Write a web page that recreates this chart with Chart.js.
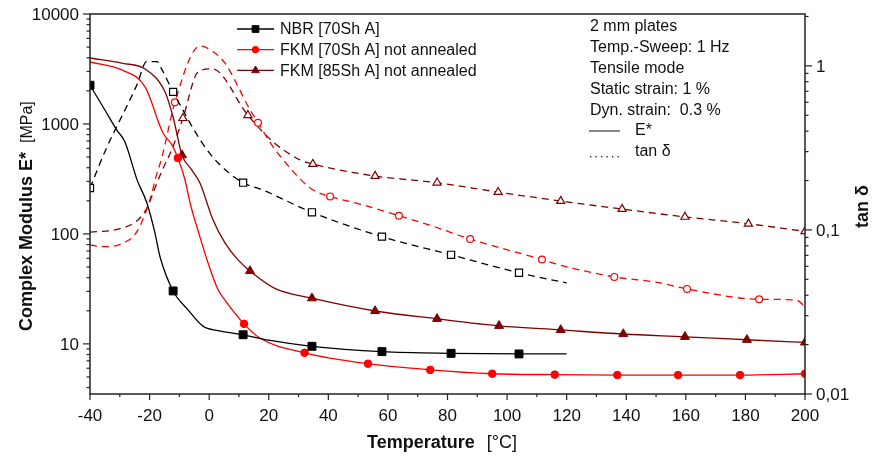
<!DOCTYPE html>
<html>
<head>
<meta charset="utf-8">
<script src="https://cdn.jsdelivr.net/npm/chart.js@4.4.0/dist/chart.umd.min.js"></script>
<style>
  html, body { margin: 0; padding: 0; background: #fff; }
  #wrap { width: 872px; height: 461px; }
</style>
</head>
<body>
<div id="wrap"><canvas id="c" width="872" height="461"></canvas></div>
<script>
// ---- data (temperature in °C) ----
// E* [MPa], left axis
const nbrT  = [-40, -35, -31, -28.3, -24.2, -20.9, -18.2, -16.5, -12.1, -7.1, -2.1, 3, 11.4, 20, 34.5, 58, 81.2, 104, 120];
const nbrE  = [2250, 1340, 880, 690, 310, 191, 102, 62, 30.3, 20.4, 14.5, 13.2, 12.1, 10.8, 9.5, 8.5, 8.2, 8.1, 8.1];
const nbrEMarks = [0, 8, 12, 14, 15, 16, 17];

const fkm70T = [-40, -29.3, -21.5, -15.5, -12.5, -10.5, -8.1, -6.4, -3.1, -0.7, 3, 5.3, 11.7, 17, 32, 53.3, 74.2, 95, 116, 137, 157.4, 178.2, 200];
const fkm70E = [3660, 3100, 2170, 828, 646, 490, 309, 191, 94, 58, 31, 25, 15.2, 11.3, 8.3, 6.6, 5.8, 5.35, 5.25, 5.2, 5.2, 5.2, 5.35];
const fkm70EMarks = [5, 12, 14, 15, 16, 17, 18, 19, 20, 21, 22];

const fkm85T = [-40, -29, -21.5, -14.8, -12.1, -9.1, -5.8, -3.1, 1.3, 5.3, 9.7, 13.7, 22, 34.5, 55.7, 76.5, 97.3, 118, 139, 159.7, 180.5, 200];
const fkm85E = [3980, 3560, 3160, 1950, 1150, 520, 381, 290, 134, 83, 58, 46, 32, 26, 19.9, 16.9, 14.6, 13.4, 12.3, 11.6, 10.9, 10.3];
const fkm85EMarks = [5, 11, 13, 14, 15, 16, 17, 18, 19, 20, 21];

// tan delta, right axis
const nbrTanT = [-40, -35, -24.2, -21, -17.5, -15.8, -12.1, -2.4, 3, 11.4, 18, 34.5, 58, 81.2, 104, 120];
const nbrTan  = [0.18, 0.30, 0.77, 1.06, 1.06, 0.945, 0.694, 0.34, 0.256, 0.194, 0.175, 0.128, 0.091, 0.0705, 0.0548, 0.0475];
const nbrTanMarks = [0, 6, 9, 11, 12, 13, 14];

const fkm70TanT = [-40, -38.3, -35, -28.3, -23.9, -19.2, -18.2, -15.8, -11.5, -3.1, 1.3, 5.3, 13.7, 16.4, 21.5, 24.9, 29.9, 34.9, 40.6, 51.6, 63.7, 74, 87.6, 111.7, 117.8, 136, 150, 160.4, 184.6, 197, 200];
const fkm70Tan  = [0.081, 0.080, 0.079, 0.084, 0.1, 0.168, 0.2, 0.28, 0.6, 1.32, 1.22, 1.04, 0.54, 0.45, 0.32, 0.267, 0.21, 0.175, 0.16, 0.142, 0.122, 0.107, 0.088, 0.066, 0.061, 0.0517, 0.048, 0.0437, 0.0378, 0.0374, 0.034];
const fkm70TanMarks = [8, 13, 18, 20, 22, 23, 25, 27, 28];

const fkm85TanT = [-40, -30.6, -23.9, -20.9, -18.2, -15.8, -12.5, -8.8, -3.7, 1, 13, 21.5, 30.5, 34.8, 55.7, 76.5, 97, 118, 138.6, 159.7, 181, 200];
const fkm85Tan  = [0.097, 0.101, 0.115, 0.136, 0.18, 0.23, 0.31, 0.48, 0.92, 0.96, 0.5, 0.344, 0.267, 0.252, 0.213, 0.194, 0.17, 0.15, 0.134, 0.12, 0.109, 0.098];
const fkm85TanMarks = [7, 10, 13, 14, 15, 16, 17, 18, 19, 20, 21];

const seriesNames = ['NBR [70Sh A]', 'FKM [70Sh A] not annealed', 'FKM [85Sh A] not annealed'];
const infoLines = ['2 mm plates', 'Temp.-Sweep: 1 Hz', 'Tensile mode', 'Static strain: 1 %', 'Dyn. strain:  0.3 %'];

const xTicks = [-40, -20, 0, 20, 40, 60, 80, 100, 120, 140, 160, 180, 200];
const leftTicks = [10, 100, 1000, 10000];
const rightTicks = [0.01, 0.1, 1];
const rightTickLabels = ['0,01', '0,1', '1'];

const BLACK = '#000000', RED = '#ff0000', DARK = '#800000';
const FONT = '"Liberation Sans", Arial, sans-serif';
const RADIUS = { rect: 5.6, circle: 3.8, triangle: 5.2 };

function pts (T, V) { return T.map((t, i) => ({ x: t, y: V[i] })); }

function series (label, T, V, marks, color, axis, dashed, style, open) {
  return {
    label,
    data: pts(T, V),
    yAxisID: axis,
    borderColor: color,
    borderWidth: 1.3,
    borderDash: dashed ? [7, 5] : [],
    cubicInterpolationMode: 'monotone',
    pointStyle: style,
    pointRadius: (c) => marks.includes(c.dataIndex) ? RADIUS[style] * (open ? 0.9 : 1) : 0,
    pointHoverRadius: 0,
    pointBackgroundColor: open ? '#ffffff' : color,
    pointBorderColor: color,
    pointBorderWidth: open ? 1.2 : 1
  };
}

function line (ctx, x1, y1, x2, y2) {
  ctx.beginPath(); ctx.moveTo(x1, y1); ctx.lineTo(x2, y2); ctx.stroke();
}

// frame, ticks, titles, legend and notes
const decorPlugin = {
  id: 'decor',
  afterDatasetsDraw (chart) {
    const { ctx, chartArea: a, scales } = chart;
    const xs = scales.x, yl = scales.y, yr = scales.y2;
    ctx.save();
    ctx.strokeStyle = '#222';
    ctx.fillStyle = '#111';
    ctx.lineWidth = 1.5;
    ctx.strokeRect(a.left, a.top, a.right - a.left, a.bottom - a.top);

    ctx.lineWidth = 1.2;
    ctx.font = '17px ' + FONT;
    ctx.textAlign = 'center';
    ctx.textBaseline = 'middle';
    // x axis
    for (let t = xs.min; t <= xs.max; t += 10) {
      const px = xs.getPixelForValue(t);
      const major = xTicks.includes(t);
      line(ctx, px, a.bottom, px, a.bottom + (major ? 6 : 3));
    }
    xTicks.forEach(t => ctx.fillText(String(t), xs.getPixelForValue(t), a.bottom + 22));

    // left log axis
    for (let d = 1; d <= 1000; d *= 10) {
      for (let m = 1; m <= 9; m++) {
        const v = d * m;
        if (v < yl.min || v > yl.max) continue;
        const py = yl.getPixelForValue(v);
        line(ctx, a.left - (m === 1 ? 7 : 3.5), py, a.left, py);
      }
    }
    line(ctx, a.left - 7, yl.getPixelForValue(10000), a.left, yl.getPixelForValue(10000));
    ctx.textAlign = 'right';
    leftTicks.forEach(v => ctx.fillText(String(v), a.left - 11, yl.getPixelForValue(v) + 1));

    // right log axis
    for (let d = 0.01; d <= 1.5; d *= 10) {
      for (let m = 1; m <= 9; m++) {
        const v = d * m;
        if (v < yr.min - 1e-9 || v > yr.max) continue;
        const py = yr.getPixelForValue(v);
        line(ctx, a.right, py, a.right + (m === 1 ? 7 : 3.5), py);
      }
    }
    ctx.textAlign = 'left';
    rightTicks.forEach((v, i) => ctx.fillText(rightTickLabels[i], a.right + 11, yr.getPixelForValue(v) + 1));

    // axis titles
    ctx.textBaseline = 'alphabetic';
    ctx.font = 'bold 18px ' + FONT;
    const tb = 'Temperature';
    ctx.fillText(tb, 367, 448);
    const tbw = ctx.measureText(tb).width;
    ctx.font = '18px ' + FONT;
    ctx.fillText('[°C]', 367 + tbw + 12, 448);

    ctx.save();
    ctx.translate(32, 331);
    ctx.rotate(-Math.PI / 2);
    ctx.font = 'bold 18px ' + FONT;
    const lb = 'Complex Modulus E*';
    ctx.fillText(lb, 0, 0);
    const lbw = ctx.measureText(lb).width;
    ctx.font = '16px ' + FONT;
    ctx.fillText('[MPa]', lbw + 9, 0);
    ctx.restore();

    ctx.save();
    ctx.translate(868, 228);
    ctx.rotate(-Math.PI / 2);
    ctx.font = 'bold 18px ' + FONT;
    ctx.fillText('tan δ', 0, 0);
    ctx.restore();

    // legend
    const legendSets = chart.data.datasets.slice(0, 3);
    ctx.font = '16px ' + FONT;
    ctx.textBaseline = 'middle';
    legendSets.forEach((ds, i) => {
      const y = 29 + i * 20.7;
      ctx.strokeStyle = ds.borderColor;
      ctx.lineWidth = 1.3;
      line(ctx, 237, y, 274, y);
      ctx.fillStyle = ds.pointBackgroundColor;
      ctx.strokeStyle = ds.borderColor;
      ctx.lineWidth = 1;
      Chart.helpers.drawPoint(ctx, { pointStyle: ds.pointStyle, radius: RADIUS[ds.pointStyle] * 0.85, rotation: 0, borderWidth: 1 }, 255.5, y);
      ctx.fillStyle = '#111';
      ctx.fillText(seriesNames[i], 280, y + 1);
    });

    // notes
    infoLines.forEach((s, i) => ctx.fillText(s, 590, 27 + i * 20.8));
    ctx.strokeStyle = '#111';
    ctx.lineWidth = 1;
    line(ctx, 589, 131, 620, 131);
    ctx.fillText('E*', 635, 131);
    for (let k = 0; k < 6; k++) ctx.fillRect(590 + k * 5.5, 156, 1.3, 1.3);
    ctx.fillText('tan δ', 635, 152);
    ctx.restore();
  }
};

new Chart(document.getElementById('c'), {
  type: 'line',
  data: {
    datasets: [
      series(seriesNames[0], nbrT, nbrE, nbrEMarks, BLACK, 'y', false, 'rect', false),
      series(seriesNames[1], fkm70T, fkm70E, fkm70EMarks, RED, 'y', false, 'circle', false),
      series(seriesNames[2], fkm85T, fkm85E, fkm85EMarks, DARK, 'y', false, 'triangle', false),
      series('NBR tan', nbrTanT, nbrTan, nbrTanMarks, BLACK, 'y2', true, 'rect', true),
      series('FKM70 tan', fkm70TanT, fkm70Tan, fkm70TanMarks, RED, 'y2', true, 'circle', true),
      series('FKM85 tan', fkm85TanT, fkm85Tan, fkm85TanMarks, DARK, 'y2', true, 'triangle', true)
    ]
  },
  options: {
    responsive: false,
    animation: false,
    events: [],
    layout: { padding: { top: 14, left: 0, right: 0, bottom: 0 } },
    plugins: { legend: { display: false }, tooltip: { enabled: false } },
    scales: {
      x: {
        type: 'linear', min: -40, max: 200,
        grid: { display: false }, border: { display: false },
        ticks: { display: false },
        afterFit: (s) => { s.height = 67; }
      },
      y: {
        type: 'logarithmic', position: 'left', min: 3.5, max: 10000,
        grid: { display: false }, border: { display: false },
        ticks: { display: false },
        afterFit: (s) => { s.width = 90; }
      },
      y2: {
        type: 'logarithmic', position: 'right', min: 0.01, max: 2.07,
        grid: { display: false }, border: { display: false },
        ticks: { display: false },
        afterFit: (s) => { s.width = 67; }
      }
    }
  },
  plugins: [decorPlugin]
});
</script>
</body>
</html>
